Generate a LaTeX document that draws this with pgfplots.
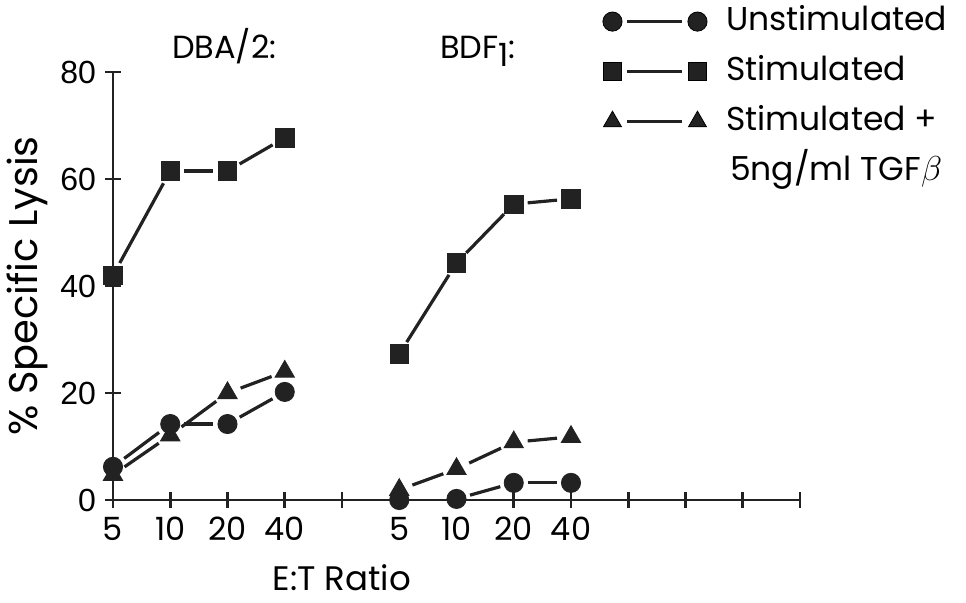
\documentclass[border=0pt]{standalone}
\usepackage{pgfplots}
\pgfplotsset{compat=1.18}
\usepackage{fontspec}
\setmainfont{Poppins}
\newfontfamily\tickfont{Liberation Sans}
\definecolor{ink}{HTML}{222222}
\pgfplotsset{
  seg/.style={ink, line width=1.6pt, shorten <=7pt, shorten >=7pt, no markers, forget plot},
  circ/.style={only marks, mark=*, mark size=4.8pt, ink, mark options={fill=ink, draw=ink}},
  sq/.style={only marks, mark=square*, mark size=4.6pt, ink, mark options={fill=ink, draw=ink}},
  tri/.style={only marks, mark=triangle*, mark size=5.6pt, ink, mark options={fill=ink, draw=ink}},
  limg/.style={legend image code/.code={
      \draw[ink, line width=1.5pt] (7.5pt,0pt) -- (35pt,0pt);
      \draw[#1, only marks] plot coordinates {(0pt,0pt) (42.5pt,0pt)};}},
}
\begin{document}
\begin{tikzpicture}
\begin{axis}[
  scale only axis, width=343.5pt, height=214pt,
  xmin=0, xmax=12, ymin=0, ymax=80,
  axis lines*=left,
  axis line style={line width=1.3pt, ink},
  xtick={0,1,2,3,4,5,6,7,8,9,10,11,12},
  xticklabels={5,10,20,40,,5,10,20,40,,,,},
  ytick={0,20,40,60,80},
  tick align=center, major tick length=8pt,
  tick style={line width=1.3pt, ink},
  /pgf/number format/assume math mode=true,
  xticklabel style={font=\fontsize{16}{16}\selectfont, yshift=-1pt},
  yticklabel style={font=\tickfont\fontsize{16}{16}\selectfont, xshift=-1pt},
  clip=false,
  legend cell align=left,
  legend style={at={(axis cs:8.55,92.4)}, anchor=north west, draw=none, fill=none,
    inner sep=0pt, font=\fontsize{16.5}{16.5}\selectfont,
    nodes={inner sep=0pt, text height=12pt, text depth=3.5pt},
    row sep=9.5pt,
    /tikz/every odd column/.append style={column sep=9.5pt}},
]
% markers
\addplot[circ, forget plot] coordinates {(0,6.2) (1,14.2) (2,14.2) (3,20.2)};
\addplot[tri, forget plot] coordinates {(0,4.7) (1,12.1) (2,20) (3,24)};
\addplot[sq, forget plot] coordinates {(0,42) (1,61.5) (2,61.5) (3,67.7)};
\addplot[circ, forget plot] coordinates {(5,0) (6,0.2) (7,3.2) (8,3.2)};
\addplot[tri, forget plot] coordinates {(5,1.9) (6,5.8) (7,10.8) (8,11.8)};
\addplot[sq, forget plot] coordinates {(5,27.3) (6,44.3) (7,55.3) (8,56.3)};
% DBA/2 segments
\addplot[seg] coordinates {(0,6.2) (1,14.2)};
\addplot[seg] coordinates {(1,14.2) (2,14.2)};
\addplot[seg] coordinates {(2,14.2) (3,20.2)};
\addplot[seg] coordinates {(0,4.7) (1,12.1)};
\addplot[seg] coordinates {(1,12.1) (2,20)};
\addplot[seg] coordinates {(2,20) (3,24)};
\addplot[seg] coordinates {(0,42) (1,61.5)};
\addplot[seg] coordinates {(1,61.5) (2,61.5)};
\addplot[seg] coordinates {(2,61.5) (3,67.7)};
% BDF1 segments
\addplot[seg] coordinates {(6,0.2) (7,3.2)};
\addplot[seg] coordinates {(7,3.2) (8,3.2)};
\addplot[seg] coordinates {(5,1.9) (6,5.8)};
\addplot[seg] coordinates {(6,5.8) (7,10.8)};
\addplot[seg] coordinates {(7,10.8) (8,11.8)};
\addplot[seg] coordinates {(5,27.3) (6,44.3)};
\addplot[seg] coordinates {(6,44.3) (7,55.3)};
\addplot[seg] coordinates {(7,55.3) (8,56.3)};
% legend
\addlegendimage{limg={mark=*, mark size=4.8pt, fill=ink}}
\addlegendentry{Unstimulated}
\addlegendimage{limg={mark=square*, mark size=4.6pt, fill=ink}}
\addlegendentry{Stimulated}
\addlegendimage{limg={mark=triangle*, mark size=5.2pt, fill=ink}}
\addlegendentry{Stimulated +}
\addlegendimage{empty legend}
\addlegendentry{\hspace{2pt}5ng/ml TGF$\beta$}
% titles and labels
\node[anchor=base west, font=\fontsize{16}{16}\selectfont] at (axis cs:0.91,82.6) {DBA/2:};
\node[anchor=base west, font=\fontsize{16}{16}\selectfont] at (axis cs:5.59,82.6) {BDF\raisebox{-0.45ex}{1}:};
\node[font=\fontsize{17}{17}\selectfont] at (axis cs:4.0,0) [yshift=-39pt] {E:T Ratio};
\node[font=\fontsize{20}{20}\selectfont, xshift=-43pt, rotate=90] at (rel axis cs:0,0.5) {\% Specific Lysis};
\end{axis}
\pgfresetboundingbox
\path (-56.5pt,-51pt) rectangle (426.5pt,250pt);
\end{tikzpicture}
\end{document}
